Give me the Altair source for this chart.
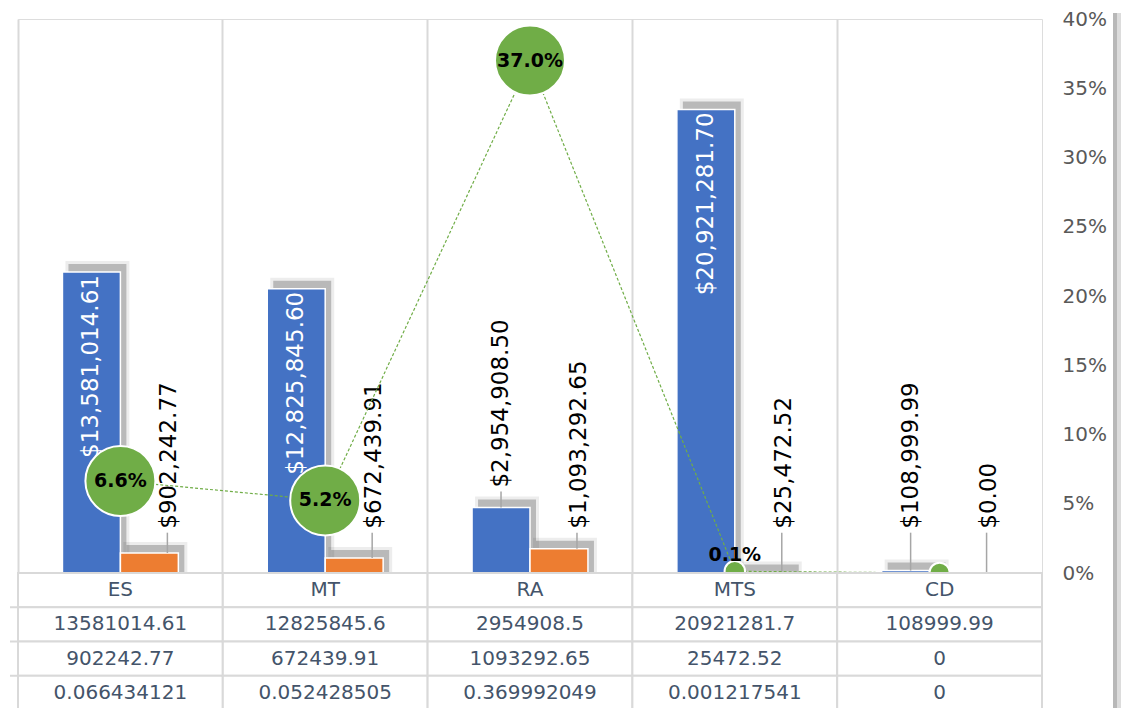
import altair as alt
import pandas as pd

# ---------------- data ----------------
categories = ["ES", "MT", "RA", "MTS", "CD"]
series_names = ["Cost $", "Savings $"]
cost = [13581014.61, 12825845.6, 2954908.5, 20921281.7, 108999.99]
savings = [902242.77, 672439.91, 1093292.65, 25472.52, 0]
pct = [0.066434121, 0.052428505, 0.369992049, 0.001217541, 0]
pct_ticks = [0, 0.05, 0.10, 0.15, 0.20, 0.25, 0.30, 0.35, 0.40]

BLUE = "#4472C4"
ORANGE = "#ED7D31"
GREEN = "#70AD47"
GRID = "#d9d9d9"
FONT = "DejaVu Sans"
TXT = "#44546A"

W, H, TH = 1024, 554, 137
BAND = W / len(categories)

bars_df = pd.DataFrame({
    "category": categories * 2,
    "series": [series_names[0]] * len(categories) + [series_names[1]] * len(categories),
    "value": cost + savings,
})
line_df = pd.DataFrame({"category": categories, "pct": pct})

table_rows = []
for i, c in enumerate(categories):
    table_rows.append({"category": c, "row": 0, "text": c})
    table_rows.append({"category": c, "row": 1, "text": str(cost[i])})
    table_rows.append({"category": c, "row": 2, "text": str(savings[i])})
    table_rows.append({"category": c, "row": 3, "text": str(pct[i])})
table_df = pd.DataFrame(table_rows)

# ---------------- encodings ----------------
x_scale = alt.Scale(type="band", paddingInner=0, paddingOuter=0)
x_enc = alt.X("category:N", sort=categories, title=None, scale=x_scale,
              axis=alt.Axis(labels=False, ticks=False, domain=False, grid=True,
                            gridColor=GRID, gridWidth=2, bandPosition=0))


def xo(shift=0):
    return alt.XOffset("series:N",
                       scale=alt.Scale(type="band", domain=series_names,
                                       paddingInner=0, paddingOuter=0.767,
                                       range=[shift, BAND + shift]))


y_scale = alt.Scale(domain=[0, 25e6])
y_enc = alt.Y("value:Q", stack=None, scale=y_scale, axis=None)

base = alt.Chart(bars_df).transform_calculate(
    label="format(datum.value, '$,.2f')",
    label_y="max(datum.value + 900000, 2000000)",
    inside="datum.value > 5000000",
)

shadow_a = base.transform_filter("datum.value > 0").mark_bar(
    color="#000000", opacity=0.07, yOffset=-11, width=64
).encode(x=x_enc, xOffset=xo(6), y=y_enc)
shadow_b = base.transform_filter("datum.value > 0").mark_bar(
    color="#000000", opacity=0.22, yOffset=-8
).encode(x=x_enc, xOffset=xo(6), y=y_enc)

bars = base.mark_bar(stroke="white", strokeWidth=1.5).encode(
    x=x_enc, xOffset=xo(0), y=y_enc,
    color=alt.Color("series:N", sort=series_names,
                    scale=alt.Scale(domain=series_names, range=[BLUE, ORANGE]),
                    legend=None),
)

lead_blue = base.transform_filter(
    f"!datum.inside && datum.series == '{series_names[0]}'"
).mark_rule(color="#a6a6a6", strokeWidth=1.5, y2Offset=4).encode(
    x=x_enc, xOffset=xo(0), y=y_enc, y2=alt.Y2("label_y:Q"))
lead_orange = base.transform_filter(
    f"!datum.inside && datum.series == '{series_names[1]}'"
).mark_rule(color="#a6a6a6", strokeWidth=1.5, y2Offset=4).encode(
    x=x_enc, xOffset=xo(18), y=y_enc, y2=alt.Y2("label_y:Q"))

in_labels = base.transform_filter("datum.inside").mark_text(
    angle=270, align="right", baseline="middle", dx=-3,
    color="white", fontSize=23, font=FONT
).encode(x=x_enc, xOffset=xo(0), y=y_enc, text="label:N")

out_blue = base.transform_filter(
    f"!datum.inside && datum.series == '{series_names[0]}'"
).mark_text(
    angle=270, align="left", baseline="middle",
    color="black", fontSize=23, font=FONT
).encode(x=x_enc, xOffset=xo(0),
         y=alt.Y("label_y:Q", scale=y_scale, axis=None), text="label:N")

out_orange = base.transform_filter(
    f"!datum.inside && datum.series == '{series_names[1]}'"
).mark_text(
    angle=270, align="left", baseline="middle",
    color="black", fontSize=23, font=FONT
).encode(x=x_enc, xOffset=xo(20),
         y=alt.Y("label_y:Q", scale=y_scale, axis=None), text="label:N")

bar_group = alt.layer(
    shadow_a, shadow_b, bars, lead_blue, lead_orange, in_labels, out_blue, out_orange
).resolve_scale(xOffset="independent")

# ---------------- percentage line ----------------
pct_scale = alt.Scale(domain=[0, 0.4])
pct_axis = alt.Axis(orient="right", format=".0%", values=pct_ticks, domain=False,
                    ticks=False, grid=False, labelPadding=20, labelFontSize=20,
                    labelColor="#595959", labelFont=FONT, title=None,
                    labelAlign="left")
pct_y = alt.Y("pct:Q", scale=pct_scale, axis=pct_axis)
pbase = alt.Chart(line_df)
pline = pbase.mark_line(color=GREEN, strokeDash=[3, 2], strokeWidth=1.2).encode(
    x=x_enc, y=pct_y)
ppts = pbase.mark_circle(fill=GREEN, stroke="white", strokeWidth=2, opacity=1).encode(
    x=x_enc, y=pct_y,
    size=alt.condition("datum.pct >= 0.01", alt.value(4900), alt.value(420)))
plabel_big = pbase.transform_filter("datum.pct >= 0.01").mark_text(
    fontWeight="bold", fontSize=19, font=FONT, color="black"
).encode(x=x_enc, y=pct_y, text=alt.Text("pct:Q", format=".1%"))
plabel_small = pbase.transform_filter("datum.pct > 0 && datum.pct < 0.01").mark_text(
    fontWeight="bold", fontSize=19, font=FONT, color="black", dy=-16
).encode(x=x_enc, y=pct_y, text=alt.Text("pct:Q", format=".1%"))
pct_group = alt.layer(pline, ppts, plabel_big, plabel_small)

# decorative chart-border shadow on the right
deco = pd.DataFrame({"k": [0]})
shadow_r1 = alt.Chart(deco).mark_rule(color="#b8b8b8", strokeWidth=4).encode(
    x=alt.value(1097), y=alt.value(-6), y2=alt.value(H + TH))
shadow_r2 = alt.Chart(deco).mark_rule(color="#dcdcdc", strokeWidth=4).encode(
    x=alt.value(1101), y=alt.value(-6), y2=alt.value(H + TH))

top = alt.layer(bar_group, pct_group, shadow_r1, shadow_r2).resolve_scale(
    y="independent").properties(width=W, height=H)

# ---------------- data table ----------------
tx_enc = alt.X("category:N", sort=categories, title=None, scale=x_scale, axis=None)
ty_scale = alt.Scale(type="band", paddingInner=0, paddingOuter=0)
ty_enc = alt.Y("row:O", axis=None, scale=ty_scale)
cells = alt.Chart(table_df).mark_rect(fill="white", stroke=GRID, strokeWidth=2).encode(
    x=tx_enc, y=ty_enc)
texts = alt.Chart(table_df).mark_text(fontSize=20, font=FONT, color=TXT).encode(
    x=tx_enc, y=ty_enc, text="text:N")
left_rules = alt.Chart(pd.DataFrame({"row": [1, 2, 3]})).mark_rule(
    color=GRID, strokeWidth=2).encode(
    x=alt.value(-8), x2=alt.value(0),
    y=alt.Y("row:O", bandPosition=0, axis=None, scale=ty_scale))
table = alt.layer(cells, texts, left_rules).properties(width=W, height=TH)

chart = alt.vconcat(top, table, spacing=0, bounds="flush").properties(
    padding=0
).configure_view(stroke=GRID, strokeWidth=2).configure(font=FONT)

chart.save("out.html", embed_options={"renderer": "svg", "actions": False})
